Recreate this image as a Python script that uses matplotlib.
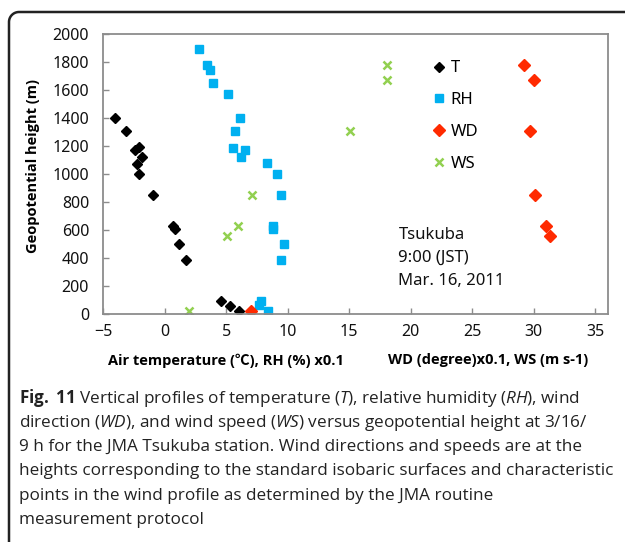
import matplotlib
matplotlib.use("Agg")
import matplotlib.pyplot as plt
from matplotlib.lines import Line2D
import numpy as np

# ---------------- data ----------------
T_height = [1400, 1305, 1195, 1175, 1125, 1075, 1000, 850, 630, 612, 500, 385, 95, 62, 26]
T_vals = [-4.0, -3.1, -2.1, -2.4, -1.8, -2.25, -2.05, -0.95, 0.7, 0.85, 1.15, 1.75, 4.6, 5.35, 6.05]

RH_height = [1890, 1780, 1740, 1650, 1570, 1400, 1305, 1190, 1172, 1125, 1077, 1000, 850,
             630, 612, 500, 385, 95, 66, 26]
RH_pct = [28.3, 34.3, 37.2, 39.4, 51.4, 61.1, 57.3, 55.4, 65.4, 62.2, 83.1, 91.2, 94.5,
          88.5, 88.3, 97.4, 94.5, 78.5, 77.1, 84.4]

WIND_height = [1780, 1672, 1305, 850, 628, 560, 26]
WD_deg = [292, 300, 297, 301, 310, 313, 70]
WS_ms = [18.1, 18.1, 15.1, 7.1, 6.0, 5.1, 2.0]

x_ticks = [-5, 0, 5, 10, 15, 20, 25, 30, 35]
y_ticks = [0, 200, 400, 600, 800, 1000, 1200, 1400, 1600, 1800, 2000]

caption_lines = [
    r"$\mathbf{Fig.}$ $\mathbf{11}$ Vertical profiles of temperature ($\mathit{T}$), relative humidity ($\mathit{RH}$), wind",
    r"direction ($\mathit{WD}$), and wind speed ($\mathit{WS}$) versus geopotential height at 3/16/",
    "9 h for the JMA Tsukuba station. Wind directions and speeds are at the",
    "heights corresponding to the standard isobaric surfaces and characteristic",
    "points in the wind profile as determined by the JMA routine",
    "measurement protocol",
]

# ---------------- style ----------------
W, H = 625, 542
plt.rcParams['font.family'] = ['Noto Sans', 'DejaVu Sans']
plt.rcParams['mathtext.fontset'] = 'custom'
plt.rcParams['mathtext.rm'] = 'Open Sans'
plt.rcParams['mathtext.it'] = 'Open Sans:italic'
plt.rcParams['mathtext.bf'] = 'Open Sans:bold'

fig = plt.figure(figsize=(W / 100, H / 100), dpi=100)
fig.patch.set_facecolor('white')

def fx(px):
    return px / W

def fy(py):
    return 1 - py / H

ax = fig.add_axes([fx(103), fy(314.3), fx(607.7) - fx(103), fy(34) - fy(314.3)])

spine_c = '#8c8c8c'
for s in ax.spines.values():
    s.set_color(spine_c)
    s.set_linewidth(1.3)

ax.plot(T_vals, T_height, linestyle='none', marker='D', ms=5.4, color='black', label='T')
ax.plot([v * 0.1 for v in RH_pct], RH_height, linestyle='none', marker='s', ms=6.3,
        color='#00b0f0', label='RH')
ax.plot([v * 0.1 for v in WD_deg], WIND_height, linestyle='none', marker='D', ms=6.0,
        color='#ff2a00', label='WD')
ax.plot(WS_ms, WIND_height, linestyle='none', marker='x', ms=6, mew=1.8,
        color='#92d050', label='WS')

ax.set_xlim(-5, 36)
ax.set_ylim(0, 2000)
ax.set_xticks(x_ticks)
ax.set_yticks(y_ticks)
ax.set_xticklabels([str(t).replace('-', '\u2212') for t in x_ticks])
ax.tick_params(direction='in', length=4, width=1, color=spine_c, labelsize=11.5,
               labelcolor='#111111')
ax.tick_params(axis='y', pad=10)
ax.tick_params(axis='x', pad=7)

ax.set_ylabel('Geopotential height (m)', fontsize=10.5, fontweight='bold',
              family=['Open Sans', 'DejaVu Sans'])
ax.yaxis.set_label_coords(-0.125, 0.53)

leg = ax.legend(loc='upper left', bbox_to_anchor=(fx(433), fy(60.5)),
                bbox_transform=fig.transFigure, frameon=False, fontsize=12,
                handlelength=0.7, handletextpad=0.35, labelspacing=0.95,
                borderaxespad=0, borderpad=0, markerscale=0.95)

ax.text(19, 400, 'Tsukuba\n9:00 (JST)\nMar. 16, 2011', fontsize=12, va='center',
        ha='left', linespacing=1.57, color='#111111')

lab_font = ['Open Sans', 'Noto Sans CJK JP', 'DejaVu Sans']
fig.text(fx(226), fy(361), 'Air temperature (\u2103), RH (%) x0.1', ha='center', va='center',
         fontsize=10.5, fontweight='bold', family=lab_font)
fig.text(fx(488), fy(360), 'WD (degree)x0.1, WS (m s-1)', ha='center', va='center',
         fontsize=10.5, fontweight='bold', family=lab_font)

# caption
cap_y = [398, 422, 446, 470, 495, 519]
for line, y in zip(caption_lines, cap_y):
    fig.text(fx(19), fy(y + 5), line, ha='left', va='baseline', fontsize=12.3,
             family=['Open Sans', 'DejaVu Sans'], color='#222222')

# outer frame with rounded top-left corner
r = 10
x0, y0 = 9, 12
theta = np.linspace(np.pi, 1.5 * np.pi, 20)
cx, cy = x0 + r, y0 + r
arc_x = cx + r * np.cos(theta)
arc_y = cy + r * np.sin(theta)
px_list = [x0] + list(arc_x) + [W]
py_list = [H] + list(arc_y) + [y0]
fig.add_artist(Line2D([fx(p) for p in px_list], [fy(p) for p in py_list],
                      transform=fig.transFigure, color='#222222', linewidth=1.8))

fig.savefig('out.png', dpi=100)
